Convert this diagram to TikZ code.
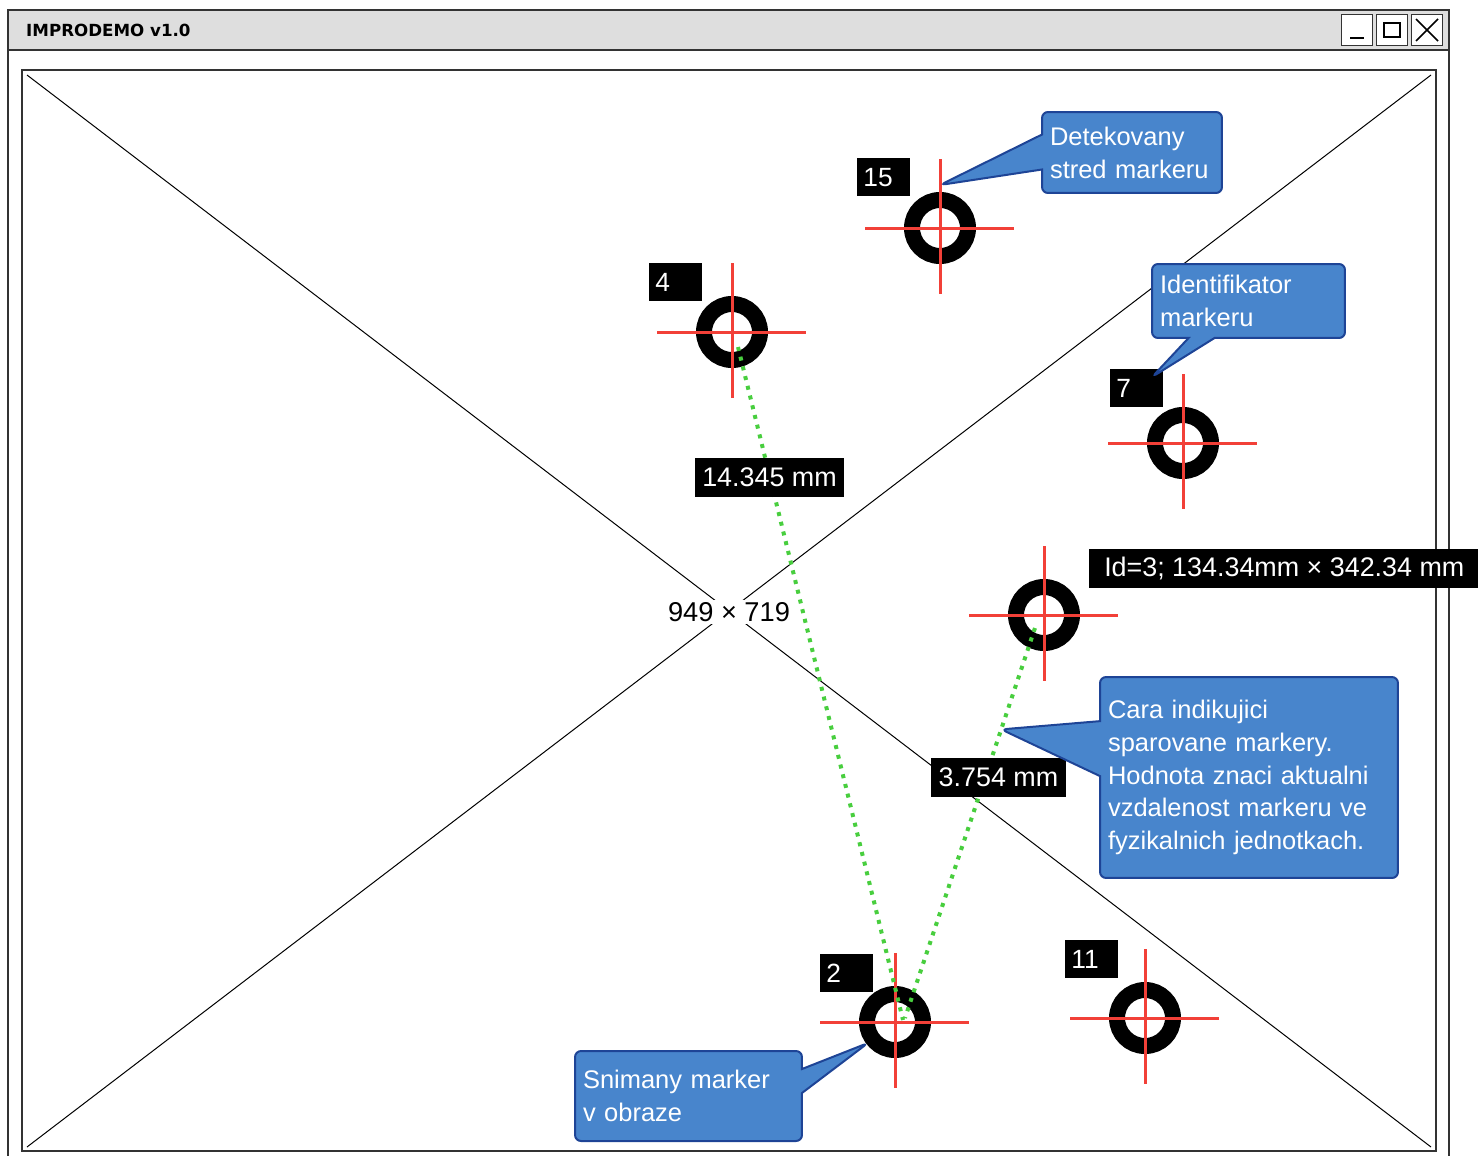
\documentclass[tikz,border=0pt]{standalone}
\usepackage{fontspec}
\setmainfont{Liberation Sans}
\newfontfamily\titlefont{DejaVu Sans}
\usetikzlibrary{shapes.callouts}

\definecolor{notefill}{RGB}{72,133,204}
\definecolor{noteedge}{RGB}{30,68,150}
\definecolor{crossred}{RGB}{242,64,56}
\definecolor{pairgreen}{RGB}{72,206,62}
\definecolor{barfill}{RGB}{222,222,222}

\tikzset{
  winline/.style={draw=black!80, line width=0.04cm},
  winbtn/.style={draw=black!80, fill=white, line width=0.03cm, minimum size=0.62cm, inner sep=0pt},
  ring/.style={draw=black, line width=0.32cm},
  crosshair/.style={draw=crossred, line width=0.06cm},
  pairline/.style={draw=pairgreen, line width=0.08cm, dash pattern=on 0.08cm off 0.12cm},
  idbox/.style={fill=black, text=white, font=\fontsize{15}{18}\selectfont, inner sep=0pt, inner xsep=0.12cm, text width=0.82cm, align=left, minimum height=0.76cm},
  tagbox/.style={fill=black, text=white, font=\fontsize{15.3}{18}\selectfont, inner sep=0pt, inner xsep=0.15cm, minimum height=0.78cm},
  note/.style={rectangle callout, fill=notefill, draw=noteedge, line width=0.04cm, rounded corners=0.12cm, text=white, font=\fontsize{14.5}{18.7}\selectfont, align=left, inner sep=0pt, inner xsep=0.16cm}
}

\begin{document}
\begin{tikzpicture}[x=0.02cm, y=-0.02cm]
    \useasboundingbox (0,0) rectangle (1478,1156);

    % window
    \draw[winline] (8,10) rectangle (1449,1170);
    \filldraw[fill=barfill, winline] (8,10) rectangle (1449,50);
    \node[anchor=west, font=\titlefont\bfseries\fontsize{9.5}{11}\selectfont] (title) at (20,30) {IMPRODEMO v1.0};
    \foreach \x/\b in {1357/bmin, 1392/bmax, 1427/bclose}
        \node[winbtn] (\b) at (\x,30) {};
    \draw[line width=0.03cm] ([shift={(-7,8)}]bmin.center) -- ([shift={(7,8)}]bmin.center);
    \draw[line width=0.03cm] ([shift={(-8,-7)}]bmax.center) rectangle ([shift={(8,7)}]bmax.center);
    \draw[line width=0.03cm] ([shift={(-11,-11)}]bclose.center) -- ([shift={(11,11)}]bclose.center)
        ([shift={(11,-11)}]bclose.center) -- ([shift={(-11,11)}]bclose.center);

    % image placeholder
    \draw[winline] (22,70) rectangle (1436,1151);
    \draw[line width=0.02cm] (27,75) -- (1431,1147);
    \draw[line width=0.02cm] (1431,75) -- (27,1147);
    \node[fill=white, inner sep=1.5pt, font=\fontsize{15.5}{18}\selectfont] (size) at (729,612) {949 × 719};

    % markers
    \coordinate (m15) at (940,228);
    \coordinate (m4) at (732,332);
    \coordinate (m7) at (1183,443);
    \coordinate (m3) at (1044,615);
    \coordinate (m2) at (895,1022);
    \coordinate (m11) at (1145,1018);
    \foreach \m in {m15, m4, m7, m3, m2, m11} {
        \draw[ring] (\m) circle (28);
        \draw[crosshair] ([shift={(-75,0)}]\m) -- ([shift={(74,0)}]\m);
        \draw[crosshair] ([shift={(0,-69)}]\m) -- ([shift={(0,66)}]\m);
    }

    % paired markers
    \draw[pairline] ([shift={(6,15)}]m4) -- ([shift={(8,-2)}]m2);
    \draw[pairline] ([shift={(-9,13)}]m3) -- coordinate[pos=0.26] (pairtip) ([shift={(10,-4)}]m2);

    % labels
    \node[idbox, anchor=north west] (n15) at (857,158) {15};
    \node[idbox, anchor=north west] (n4) at (649,263) {4};
    \node[idbox, anchor=north west] (n7) at (1110,369) {7};
    \node[idbox, anchor=north west] (n2) at (820,954) {2};
    \node[idbox, anchor=north west] (n11) at (1065,940) {11};
    \node[tagbox, anchor=west, minimum width=7.8cm] (n3) at (1089,568) {Id=3; 134.34mm × 342.34 mm};
    \node[tagbox] (d4) at (769.5,477.5) {14.345 mm};
    \node[tagbox] (d3) at (998.5,777.5) {3.754 mm};

    % callouts
    \node[note, callout absolute pointer={([shift={(0,-43)}]m15)}, callout pointer width=0.7cm,
        text width=3.28cm, minimum height=1.62cm] (c15) at (1132,152.5) {Detekovany\\stred markeru};
    \node[note, callout absolute pointer={([shift={(-31,-66)}]m7)}, callout pointer width=0.52cm,
        text width=3.54cm, minimum height=1.48cm] (c7) at (1248.5,301) {Identifikator\\markeru};
    \node[note, callout absolute pointer=(pairtip), callout pointer width=1.1cm,
        text width=5.64cm, minimum height=4.02cm] (cpair) at (1249,777.5)
        {Cara indikujici\\sparovane markery.\\Hodnota znaci aktualni\\vzdalenost markeru ve\\fyzikalnich jednotkach.};
    \node[note, callout absolute pointer={([shift={(-27,21)}]m2)}, callout pointer width=0.48cm,
        text width=4.22cm, minimum height=1.8cm] (c2) at (688.5,1096) {Snimany marker\\v obraze};
\end{tikzpicture}
\end{document}
